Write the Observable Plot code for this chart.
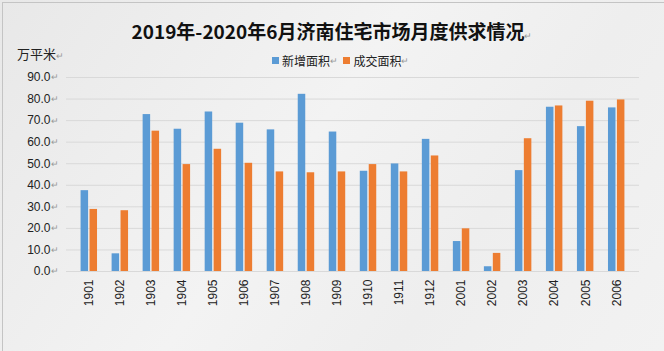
<!DOCTYPE html>
<html><head><meta charset="utf-8">
<script src="https://cdn.jsdelivr.net/npm/d3@7"></script>
<script src="https://cdn.jsdelivr.net/npm/@observablehq/plot@0.6"></script>
<style>
html,body{margin:0;padding:0;}
#wrap{position:relative;width:664px;height:351px;overflow:hidden;
 background:linear-gradient(125deg,#e8e8e8 0%,#f3f3f3 45%,#eeeeee 70%,#f2f2f2 100%);
 font-family:"Microsoft YaHei","Noto Sans CJK SC",sans-serif;}
#frame{position:absolute;left:2px;top:2px;right:-2px;bottom:-2px;border-left:1px solid #c4c4c4;border-top:1px solid #c4c4c4;}
#title{position:absolute;left:0;width:664px;top:17px;text-align:center;font-size:19px;font-weight:bold;color:#111;}
#unit{position:absolute;left:17px;top:44px;font-size:13px;color:#222;}
#legend{position:absolute;left:272px;top:52px;font-size:12px;color:#222;display:flex;align-items:center;}
.sw{display:inline-block;width:7px;height:7px;margin-right:3px;}
.pm{color:#999;font-size:9px;font-weight:normal;}
#chart{position:absolute;left:0;top:0;}
</style></head><body>
<div id="wrap">
<div id="frame"></div>
<div id="title">2019年-2020年6月济南住宅市场月度供求情况<span class="pm">↵</span></div>
<div id="unit">万平米<span class="pm">↵</span></div>
<div id="legend"><span class="sw" style="background:#5B9BD5"></span>新增面积<span class="pm">↵</span>&nbsp;&nbsp;<span class="sw" style="background:#ED7D31"></span>成交面积<span class="pm">↵</span></div>
<div id="chart"></div>
</div>
<script>
const months = ["1901","1902","1903","1904","1905","1906","1907","1908","1909","1910","1911","1912","2001","2002","2003","2004","2005","2006"];
const seriesNames = ["新增面积","成交面积"];
const newArea  = [37.5, 8.2, 72.8, 66.0, 74.0, 68.8, 65.7, 82.2, 64.7, 46.5, 49.9, 61.3, 13.9, 2.2, 46.8, 76.2, 67.2, 75.9];
const soldArea = [28.8, 28.2, 65.1, 49.6, 56.7, 50.2, 46.2, 45.8, 46.2, 49.6, 46.2, 53.6, 19.8, 8.4, 61.6, 76.8, 79.0, 79.6];
const yTicks = [0,10,20,30,40,50,60,70,80,90];
const colors = ["#5B9BD5","#ED7D31"];

const newData = months.map((m,i)=>({month:m, value:newArea[i]}));
const soldData = months.map((m,i)=>({month:m, value:soldArea[i]}));

const W=664,H=351,mL=66,mR=25,mT=77,mB=80;
const pad=0.47;
const step=(W-mL-mR)/months.length;
const bw=step*(1-pad);
const half=bw/2+0.5;

const chart = Plot.plot({
  width:W, height:H,
  marginLeft:mL, marginRight:mR, marginTop:mT, marginBottom:mB,
  style:{background:"transparent", fontFamily:"Arial, 'Liberation Sans', sans-serif", fontSize:"12px", color:"#222"},
  x:{domain:months, padding:pad, round:false, label:null, tickSize:0, tickRotate:-90, tickPadding:8},
  y:{domain:[0,90], ticks:yTicks, label:null, tickSize:0, tickPadding:16, tickFormat:d=>d.toFixed(1)},
  marks:[
    Plot.ruleY(yTicks,{stroke:"#d9d9d9", strokeWidth:1}),
    Plot.barY(newData,{x:"month", y:"value", fill:colors[0], insetRight:half}),
    Plot.barY(soldData,{x:"month", y:"value", fill:colors[1], insetLeft:half}),
    Plot.text(yTicks,{frameAnchor:"left", y:d=>d, text:()=>"↵", dx:-16, fill:"#999", fontSize:9, textAnchor:"start"})
  ]
});
document.getElementById("chart").appendChild(chart);
</script>
</body></html>
